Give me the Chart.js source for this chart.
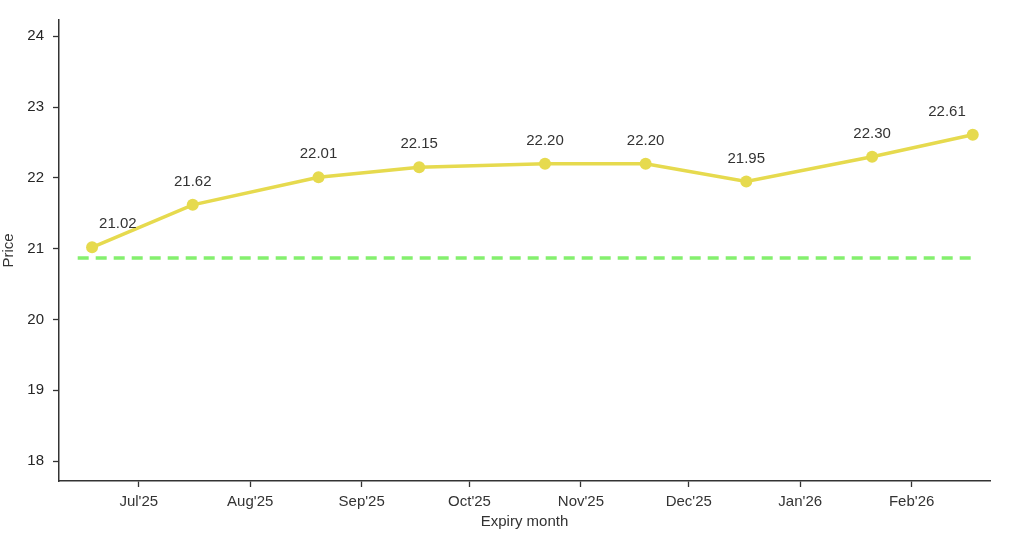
<!DOCTYPE html>
<html>
<head>
<meta charset="utf-8">
<script src="https://cdn.jsdelivr.net/npm/chart.js@4/dist/chart.umd.min.js"></script>
<style>
  html, body { margin: 0; padding: 0; background: #fff; }
  canvas { display: block; }
</style>
</head>
<body>
<canvas id="chart" width="1024" height="535"></canvas>
<script>
// futures expiry dates and settlement prices
var expiryDates = ["2025-06-18", "2025-07-16", "2025-08-20", "2025-09-17", "2025-10-22",
                   "2025-11-19", "2025-12-17", "2026-01-21", "2026-02-18"];
var futurePrices = [21.02, 21.62, 22.01, 22.15, 22.20, 22.20, 21.95, 22.30, 22.61];

// spot level, drawn as a dashed reference line
var spotPrice = 20.87;
var spotLineDates = ["2025-06-14", "2026-02-18"];

// month ticks on the x axis
var tickDates = ["2025-07-01", "2025-08-01", "2025-09-01", "2025-10-01",
                 "2025-11-01", "2025-12-01", "2026-01-01", "2026-02-01"];
var tickLabels = ["Jul'25", "Aug'25", "Sep'25", "Oct'25", "Nov'25", "Dec'25", "Jan'26", "Feb'26"];
var yTicks = [18, 19, 20, 21, 22, 23, 24];

const FONT = "'Liberation Sans', Arial, Helvetica, sans-serif";
const TEXT_COLOR = "#333333";
const AXIS_COLOR = "#333333";

// days since epoch, so the x axis can be a plain linear scale
function toDay(s) {
    return Date.parse(s + "T00:00:00Z") / 86400000;
}

// writes the price above each point; first and last are pushed inwards
var pointLabels = {
    id: "pointLabels",
    afterDatasetsDraw: function(chart) {
        var ctx = chart.ctx;
        var meta = chart.getDatasetMeta(0);
        ctx.save();
        ctx.font = "15px " + FONT;
        ctx.fillStyle = TEXT_COLOR;
        ctx.textBaseline = "middle";
        var last = meta.data.length - 1;
        meta.data.forEach(function(pt, i) {
            var text = futurePrices[i].toFixed(2);
            var x = pt.x;
            if (i == 0) {
                ctx.textAlign = "left";
                x += 7;
            } else if (i == last) {
                ctx.textAlign = "right";
                x -= 7;
            } else {
                ctx.textAlign = "center";
            }
            ctx.fillText(text, x, pt.y - 23);
        });
        ctx.restore();
    }
};

var futuresData = expiryDates.map(function(d, i) {
    return { x: toDay(d), y: futurePrices[i] };
});
var spotData = spotLineDates.map(function(d) {
    return { x: toDay(d), y: spotPrice };
});

new Chart(document.getElementById("chart"), {
    type: "line",
    data: {
        datasets: [
            {
                label: "Futures",
                data: futuresData,
                borderColor: "#e6da4e",
                backgroundColor: "#e6da4e",
                borderWidth: 3.5,
                pointRadius: 6,
                pointBorderWidth: 0,
                tension: 0
            },
            {
                label: "Spot",
                data: spotData,
                borderColor: "#84f06e",
                borderWidth: 3.5,
                borderDash: [11, 7],
                pointRadius: 0,
                tension: 0
            }
        ]
    },
    options: {
        responsive: false,
        animation: false,
        devicePixelRatio: 1,
        layout: { padding: { left: 0, right: 34, top: 20, bottom: 4 } },
        plugins: {
            legend: { display: false },
            tooltip: { enabled: false }
        },
        scales: {
            x: {
                type: "linear",
                min: toDay("2025-06-08") + 0.8,
                max: toDay("2026-02-22") + 0.8,
                afterBuildTicks: function(scale) {
                    scale.ticks = tickDates.map(function(d) { return { value: toDay(d) }; });
                },
                afterFit: function(scale) { scale.height = 50; },
                ticks: {
                    autoSkip: false,
                    maxRotation: 0,
                    padding: 6,
                    color: TEXT_COLOR,
                    font: { family: FONT, size: 15 },
                    callback: function(value, index) { return tickLabels[index]; }
                },
                grid: {
                    drawOnChartArea: false,
                    drawTicks: true,
                    tickLength: 6,
                    tickWidth: 1.3,
                    color: AXIS_COLOR
                },
                border: { display: true, color: AXIS_COLOR, width: 1.5 },
                title: {
                    display: true,
                    text: "Expiry month",
                    color: TEXT_COLOR,
                    padding: 0,
                    font: { family: FONT, size: 15 }
                }
            },
            y: {
                min: 17.72,
                max: 24.23,
                afterBuildTicks: function(scale) {
                    scale.ticks = yTicks.map(function(v) { return { value: v }; });
                },
                afterFit: function(scale) { scale.width = 59; },
                ticks: {
                    padding: 9,
                    color: "#262626",
                    font: { family: FONT, size: 15 }
                },
                grid: {
                    drawOnChartArea: false,
                    drawTicks: true,
                    tickLength: 6,
                    tickWidth: 1.3,
                    color: AXIS_COLOR
                },
                border: { display: true, color: AXIS_COLOR, width: 1.5 },
                title: {
                    display: true,
                    text: "Price",
                    color: TEXT_COLOR,
                    padding: 0,
                    font: { family: FONT, size: 15 }
                }
            }
        }
    },
    plugins: [pointLabels]
});
</script>
</body>
</html>
